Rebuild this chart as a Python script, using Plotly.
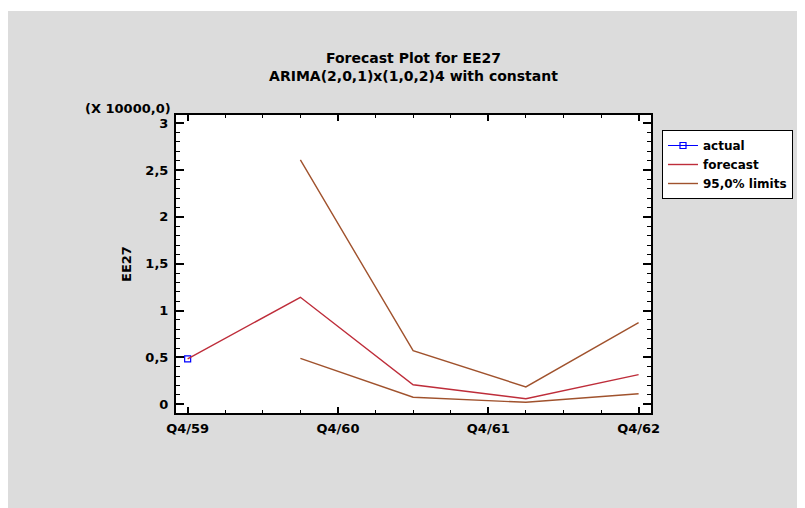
import plotly.graph_objects as go

# ---- data ----
actual_periods = ["Q4/59"]
actual_values = [0.485]

forecast_periods = ["Q4/59", "Q3/60", "Q2/61", "Q1/62", "Q4/62"]
forecast_values = [0.485, 1.142, 0.209, 0.060, 0.316]

limit_periods = ["Q3/60", "Q2/61", "Q1/62", "Q4/62"]
upper_limits = [2.608, 0.572, 0.185, 0.871]
lower_limits = [0.491, 0.075, 0.021, 0.113]

tick_labels = ["Q4/59", "Q4/60", "Q4/61", "Q4/62"]
y_tick_values = [0, 0.5, 1, 1.5, 2, 2.5, 3]
y_tick_labels = ["0", "0,5", "1", "1,5", "2", "2,5", "3"]


def qidx(s):
    q = int(s[1])
    yr = int(s[3:])
    return (yr - 59) * 4 + q - 4


ax = [qidx(p) for p in actual_periods]
fx = [qidx(p) for p in forecast_periods]
lx = [qidx(p) for p in limit_periods]
lim_x = lx + [None] + lx
lim_y = upper_limits + [None] + lower_limits

FONT = "DejaVu Sans, Verdana, sans-serif"
# page has an 8px body margin -> figure coords = page coords - 8
OFF = 8
W, H = 805 - OFF, 508 - OFF
L, R, T, B = 176 - OFF, 651 - OFF, 115 - OFF, 413 - OFF


def px_x(px):
    return (px - OFF - L) / (R - L)


def px_y(py):
    return (B - (py - OFF)) / (B - T)


fig = go.Figure()
fig.add_trace(go.Scatter(
    x=ax, y=actual_values, mode="lines+markers", name="<b>actual</b>",
    line=dict(color="#0000ff", width=1),
    marker=dict(symbol="square-open", size=6, color="#0000ff", line=dict(width=1.2)),
))
fig.add_trace(go.Scatter(
    x=fx, y=forecast_values, mode="lines", name="<b>forecast</b>",
    line=dict(color="#be2d3a", width=1.4),
))
fig.add_trace(go.Scatter(
    x=lim_x, y=lim_y, mode="lines", name="<b>95,0% limits</b>",
    line=dict(color="#a0522d", width=1.4), connectgaps=False,
))

fig.update_layout(
    width=W, height=H,
    margin=dict(l=L, r=W - R, t=T, b=H - B, pad=0),
    paper_bgcolor="#dcdcdc",
    plot_bgcolor="white",
    font=dict(family=FONT, size=13, color="black"),
    title=dict(
        text="<b>Forecast Plot for EE27</b><br><b>ARIMA(2,0,1)x(1,0,2)4 with constant</b>",
        x=(L + R) / 2 / W, xanchor="center",
        y=1 - (63 - OFF) / H, yanchor="top", yref="container",
        font=dict(family=FONT, size=14, color="black"),
    ),
    showlegend=True,
    legend=dict(
        x=px_x(662), y=px_y(130),
        xanchor="left", yanchor="top",
        bgcolor="white", bordercolor="black", borderwidth=1,
        font=dict(family=FONT, size=12, color="black"),
        tracegroupgap=0, itemwidth=30,
    ),
)

fig.update_xaxes(
    range=[-0.31, 12.33],
    tickvals=[qidx(t) for t in tick_labels], ticktext=["<b>%s</b>" % t for t in tick_labels],
    ticks="inside", ticklen=6, tickwidth=1.5, tickcolor="black",
    minor=dict(dtick=1, ticks="inside", ticklen=3, tickwidth=1, tickcolor="black", tick0=0),
    showline=True, linecolor="black", linewidth=2, mirror="allticks",
    showgrid=False, zeroline=False, ticklabelstandoff=2,
    tickfont=dict(family=FONT, size=13),
)
fig.update_yaxes(
    range=[-0.093, 3.088],
    tickvals=y_tick_values, ticktext=["<b>%s</b>" % t for t in y_tick_labels],
    ticks="inside", ticklen=8, tickwidth=1.5, tickcolor="black",
    minor=dict(dtick=0.1, ticks="inside", ticklen=4, tickwidth=1, tickcolor="black", tick0=0),
    showline=True, linecolor="black", linewidth=2, mirror="allticks",
    showgrid=False, zeroline=False, ticklabelstandoff=3,
    title=dict(text="<b>EE27</b>", standoff=11, font=dict(family=FONT, size=13)),
    tickfont=dict(family=FONT, size=13),
)

fig.add_annotation(
    text="<b>(X 10000,0)</b>", xref="paper", yref="paper",
    x=px_x(173), y=px_y(109),
    xanchor="right", yanchor="middle", showarrow=False,
    font=dict(family=FONT, size=13, color="black"),
)

# thin white strip at top of page (grey panel starts at y=11)
fig.add_shape(type="rect", xref="paper", yref="paper",
              x0=px_x(0) - 0.02, x1=px_x(805) + 0.02,
              y0=px_y(11), y1=px_y(0),
              fillcolor="white", line=dict(width=0), layer="above")

fig.write_html("out.html")
